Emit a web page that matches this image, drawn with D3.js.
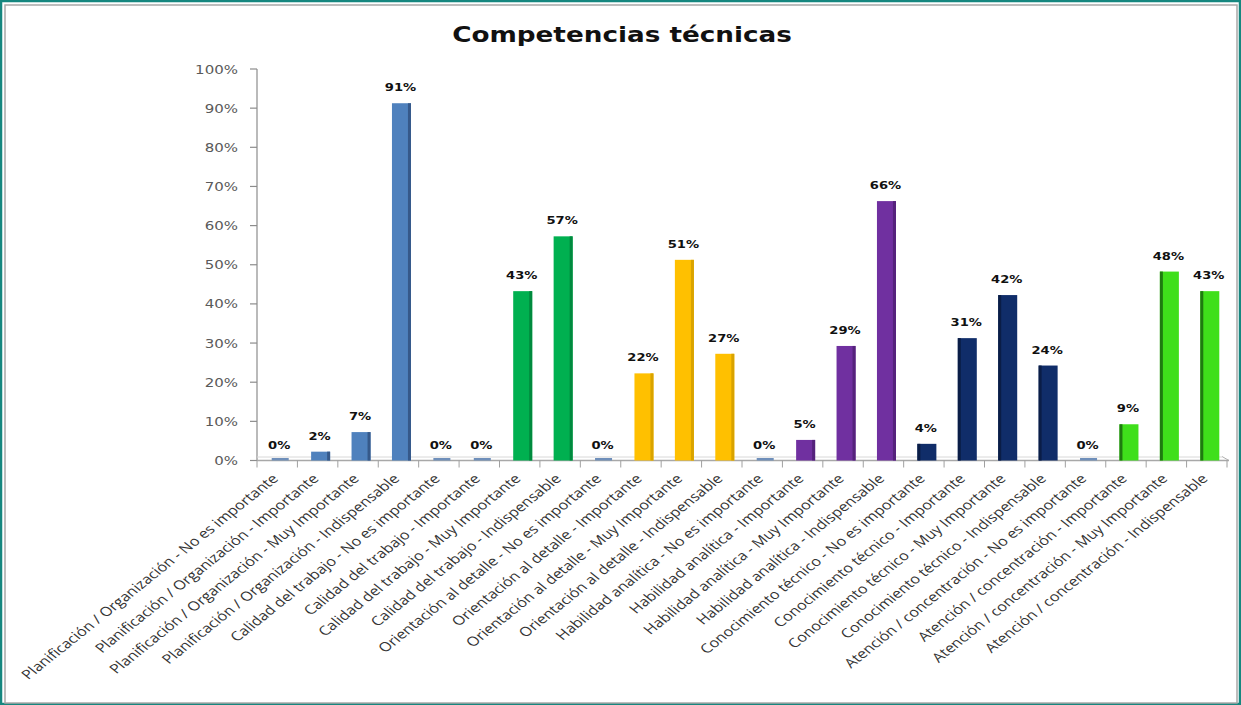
<!DOCTYPE html>
<html><head><meta charset="utf-8">
<script src="https://cdn.jsdelivr.net/npm/d3@7"></script>
<style>html,body{margin:0;padding:0;background:#fff;}svg{display:block;}</style>
</head><body>
<svg id="chart" width="1241" height="705"></svg>
<script>
const title = "Competencias técnicas";
const groups = ["Planificación / Organización","Calidad del trabajo","Orientación al detalle","Habilidad analítica","Conocimiento técnico","Atención / concentración"];
const levels = ["No es importante","Importante","Muy Importante","Indispensable"];
const categories = groups.flatMap(g => levels.map(l => g + " - " + l));
const values = [0,2,7,91, 0,0,43,57, 0,22,51,27, 0,5,29,66, 4,31,42,24, 0,9,48,43];
const yTicks = [0,10,20,30,40,50,60,70,80,90,100];
const groupColors = ["#4F81BD","#00B050","#FFC000","#7030A0","#102D69","#3FDF1B"];
const groupSideColors = ["#36598A","#008a3e","#d9a300","#55227c","#0a1d46","#1f7a10"];
const groupSide = ["right","right","right","right","left","left"];
const zeroColor = "#6f8fba";

const svg = d3.select("#chart");
const SX = 1.25;

// frame
svg.append("rect").attr("x",1).attr("y",1).attr("width",1239).attr("height",703)
  .attr("fill","none").attr("stroke","#16877f").attr("stroke-width",2.5);
svg.append("rect").attr("x",5).attr("y",5).attr("width",1232).attr("height",698)
  .attr("fill","#fff").attr("stroke","#a8a8a8").attr("stroke-width",1.5);

const x = d3.scaleBand().domain(categories).range([257,1227]).padding(0);
const y = d3.scaleLinear().domain([0,100]).range([460.5,69]);

// title
svg.append("text").attr("transform",`translate(622,42) scale(${SX},1)`)
  .attr("text-anchor","middle").attr("font-family","DejaVu Sans").attr("font-weight","bold")
  .attr("font-size",21).attr("fill","#111").text(title);

// y axis
const yAxis = svg.append("g");
yAxis.append("line").attr("x1",257).attr("x2",257).attr("y1",y(100)).attr("y2",y(0))
  .attr("stroke","#8c8c8c").attr("stroke-width",1.2);
yTicks.forEach(t=>{
  yAxis.append("line").attr("x1",250).attr("x2",257).attr("y1",y(t)).attr("y2",y(t))
    .attr("stroke","#8c8c8c").attr("stroke-width",1.2);
  yAxis.append("text").attr("transform",`translate(238,${y(t)+4.5}) scale(${SX},1)`)
    .attr("text-anchor","end").attr("font-family","DejaVu Sans").attr("font-size",12)
    .attr("fill","#5a5a5a").text(t+"%");
});

// floor / x axis
svg.append("line").attr("x1",257).attr("x2",1222).attr("y1",y(0)-3.5).attr("y2",y(0)-3.5)
  .attr("stroke","#d8d8d8").attr("stroke-width",1);
svg.append("line").attr("x1",1222).attr("x2",1229).attr("y1",y(0)-4).attr("y2",y(0))
  .attr("stroke","#b0b0b0").attr("stroke-width",1);
svg.append("line").attr("x1",257).attr("x2",1229).attr("y1",y(0)).attr("y2",y(0))
  .attr("stroke","#a8a8a8").attr("stroke-width",1.3);
const bounds = categories.map(c=>x(c)).concat([x.range()[1]]);
bounds.forEach(b=>{
  svg.append("line").attr("x1",b).attr("x2",b).attr("y1",y(0)).attr("y2",y(0)+7)
    .attr("stroke","#a0a0a0").attr("stroke-width",1);
});

// bars
const BW = 19;
categories.forEach((c,i)=>{
  const g = Math.floor(i/4);
  const v = values[i];
  const cx = x(c) + x.bandwidth()/2 + 3;
  const x0 = cx - BW/2;
  if (v === 0) {
    svg.append("rect").attr("x",x0+1).attr("y",y(0)-2.5).attr("width",BW-2).attr("height",2.5)
      .attr("fill",zeroColor);
  } else {
    const top = y(v) - 1;
    const h = y(0) - top;
    svg.append("rect").attr("x",x0).attr("y",top).attr("width",BW).attr("height",h)
      .attr("fill",groupColors[g]);
    const sx = groupSide[g]==="right" ? x0+BW-3 : x0;
    svg.append("rect").attr("x",sx).attr("y",top).attr("width",3).attr("height",h)
      .attr("fill",groupSideColors[g]);
  }
  const ly = (v===0 ? y(0) : y(v)-1) - 12;
  svg.append("text").attr("transform",`translate(${cx-1},${ly}) scale(${SX},1)`)
    .attr("text-anchor","middle").attr("font-family","DejaVu Sans").attr("font-weight","bold")
    .attr("font-size",10.5).attr("fill","#111").text(v+"%");
  // category label
  svg.append("text").attr("transform",`translate(${cx-1},${y(0)+19}) scale(${SX},1) rotate(-45)`)
    .attr("text-anchor","end").attr("font-family","Open Sans").attr("font-size",13)
    .attr("fill","#333").text(c);
});
</script>
</body></html>
